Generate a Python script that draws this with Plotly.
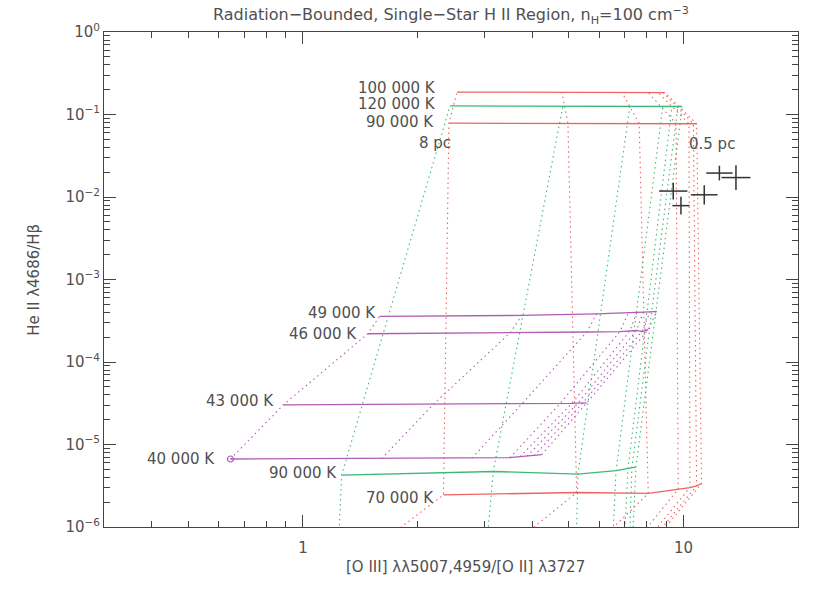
import math
import plotly.graph_objects as go

# ---------------- data ----------------
# x: [O III] 5007,4959 / [O II] 3727 ; y: He II 4686 / H-beta
# each temperature track runs over radii from 8 pc (left) to 0.5 pc (right)

# red model grid (lowest temperature lies below the plotted range)
red_temps = ["60 000 K", "70 000 K", "90 000 K", "100 000 K"]
red_x_60 = [1.384, 3.196, 5.36, 7.01, 7.50, 7.79, 8.02]
red_y_60 = [3.87e-7, 4.13e-7, 4.02e-7, 4.54e-7, 4.75e-7, 4.99e-7, 5.32e-7]
red_x_70 = [2.34, 5.24, 8.08, 9.69, 10.40, 10.83, 11.16]
red_y_70 = [2.45e-6, 2.62e-6, 2.55e-6, 2.88e-6, 3.01e-6, 3.16e-6, 3.37e-6]
red_x_90 = [2.419, 4.97, 7.65, 9.56, 10.34, 10.62, 10.83]
red_y_90 = [0.0785, 0.0782, 0.0780, 0.0778, 0.0776, 0.0774, 0.0772]
red_x_100 = [2.54, 4.79, 6.89, 8.07, 8.57, 8.83, 8.94]
red_y_100 = [0.187, 0.187, 0.186, 0.186, 0.185, 0.185, 0.184]

# green model grid (lowest temperature lies below the plotted range)
green_temps = ["80 000 K", "90 000 K", "120 000 K"]
green_x_80 = [1.233, 3.014, 5.21, 6.48, 6.95, 7.19, 7.31]
green_y_80 = [3.43e-7, 3.80e-7, 3.53e-7, 3.87e-7, 4.13e-7, 4.21e-7, 4.30e-7]
green_x_90 = [1.264, 3.163, 5.28, 6.65, 7.15, 7.32, 7.50]
green_y_90 = [4.26e-6, 4.71e-6, 4.38e-6, 4.81e-6, 5.13e-6, 5.23e-6, 5.33e-6]
green_x_120 = [2.434, 4.82, 7.23, 8.83, 9.33, 9.67, 9.93]
green_y_120 = [0.127, 0.127, 0.126, 0.126, 0.126, 0.125, 0.125]

# purple model grid
purple_temps = ["40 000 K", "43 000 K", "46 000 K", "49 000 K"]
purple_x_40 = [0.645, 1.61, 2.78, 3.50, 3.72, 3.88, 4.05, 4.24]
purple_y_40 = [6.67e-6, 6.73e-6, 6.83e-6, 6.92e-6, 7.11e-6, 7.21e-6, 7.31e-6, 7.52e-6]
purple_x_43 = [0.888, 2.20, 3.76, 4.74, 5.09, 5.28, 5.44, 5.57]
purple_y_43 = [3.02e-5, 3.06e-5, 3.10e-5, 3.13e-5, 3.15e-5, 3.17e-5, 3.19e-5, 3.19e-5]
purple_x_46 = [1.48, 3.50, 5.57, 6.81, 7.23, 7.53, 7.77, 8.08]
purple_y_46 = [2.20e-4, 2.25e-4, 2.31e-4, 2.34e-4, 2.38e-4, 2.41e-4, 2.34e-4, 2.46e-4]
purple_x_49 = [1.59, 3.76, 5.91, 7.16, 7.53, 7.84, 8.17, 8.51]
purple_y_49 = [3.57e-4, 3.67e-4, 3.83e-4, 3.91e-4, 3.96e-4, 4.02e-4, 4.06e-4, 4.11e-4]

radius_labels = ["8 pc", "0.5 pc"]

# observed nebulae with error bars
obs_x = [9.40, 9.85, 11.34, 12.43, 13.74]
obs_x_lo = [8.63, 9.35, 10.46, 11.48, 12.59]
obs_x_hi = [10.24, 10.38, 12.29, 13.46, 15.0]
obs_y = [0.0118, 0.00786, 0.01063, 0.0195, 0.0172]
obs_y_lo = [0.00934, 0.00612, 0.00812, 0.01588, 0.01218]
obs_y_hi = [0.01491, 0.0101, 0.01391, 0.02395, 0.0243]

y_tick_vals = [1e-6, 1e-5, 1e-4, 1e-3, 1e-2, 1e-1, 1]
y_tick_text = ["10<sup>−6</sup>", "10<sup>−5</sup>", "10<sup>−4</sup>", "10<sup>−3</sup>",
               "10<sup>−2</sup>", "10<sup>−1</sup>", "10<sup>0</sup>"]
x_tick_vals = [1, 10]
x_tick_text = ["1", "10"]

# ---------------- styling ----------------
RED = "#ef6262"
GREEN = "#3db877"
PURPLE = "#b25cb6"
TXT = "#505050"
AX = "#444444"
FONT = "DejaVu Sans"
DOT = "1.5px,3.5px"

families = [
    (RED, red_temps,
     [(red_x_60, red_y_60), (red_x_70, red_y_70), (red_x_90, red_y_90), (red_x_100, red_y_100)],
     [None, (-7, -3), (-13, 1), (-19, 4)]),
    (GREEN, green_temps,
     [(green_x_80, green_y_80), (green_x_90, green_y_90), (green_x_120, green_y_120)],
     [None, (-3, 2), (-12, 2)]),
    (PURPLE, purple_temps,
     [(purple_x_40, purple_y_40), (purple_x_43, purple_y_43), (purple_x_46, purple_y_46),
      (purple_x_49, purple_y_49)],
     [(-13, 0), (-7, 4), (-9, 0), (-2, 3)]),
]

fig = go.Figure()
annotations = []

# dotted constant-radius lines
for color, temps, tracks, offs in families:
    n = len(tracks[0][0])
    for i in range(n):
        fig.add_trace(go.Scatter(
            x=[t[0][i] for t in tracks], y=[t[1][i] for t in tracks],
            mode="lines", line=dict(color=color, width=1.1, dash=DOT),
            hoverinfo="skip", showlegend=False))

# solid constant-temperature lines + labels
for color, temps, tracks, offs in families:
    for (tx, ty), name, off in zip(tracks, temps, offs):
        fig.add_trace(go.Scatter(x=tx, y=ty, mode="lines", name=name,
                                 line=dict(color=color, width=1.3), showlegend=False))
        if off is not None:
            annotations.append(dict(
                x=math.log10(tx[0]), y=math.log10(ty[0]), xref="x", yref="y",
                text=name, showarrow=False, xanchor="right", yanchor="middle",
                xshift=off[0], yshift=off[1], font=dict(family=FONT, size=15, color=TXT)))

# small open circle at the start of the coolest purple track
fig.add_trace(go.Scatter(x=[purple_x_40[0]], y=[purple_y_40[0]], mode="markers",
                         marker=dict(symbol="circle-open", size=6, color=PURPLE, line=dict(width=1.2)),
                         showlegend=False))

# radius labels near the 90 000 K red track
annotations.append(dict(x=math.log10(red_x_90[0]), y=math.log10(red_y_90[0]), xref="x", yref="y",
                        text=radius_labels[0], showarrow=False, xanchor="right", yanchor="middle",
                        xshift=4, yshift=-20, font=dict(family=FONT, size=15, color=TXT)))
annotations.append(dict(x=math.log10(red_x_90[-1]), y=math.log10(red_y_90[-1]), xref="x", yref="y",
                        text=radius_labels[1], showarrow=False, xanchor="left", yanchor="middle",
                        xshift=-10, yshift=-20, font=dict(family=FONT, size=15, color=TXT)))

# observations
fig.add_trace(go.Scatter(
    x=obs_x, y=obs_y, mode="markers", marker=dict(size=1, color="rgba(0,0,0,0)"),
    error_x=dict(type="data", symmetric=False,
                 array=[h - v for h, v in zip(obs_x_hi, obs_x)],
                 arrayminus=[v - l for l, v in zip(obs_x_lo, obs_x)],
                 color="#333333", thickness=1.5, width=0),
    error_y=dict(type="data", symmetric=False,
                 array=[h - v for h, v in zip(obs_y_hi, obs_y)],
                 arrayminus=[v - l for l, v in zip(obs_y_lo, obs_y)],
                 color="#333333", thickness=1.5, width=0),
    showlegend=False))

# axis titles
annotations.append(dict(x=0.5216, y=-0.081, xref="paper", yref="paper",
                        text="[O III] λλ5007,4959/[O II] λ3727", showarrow=False,
                        xanchor="center", yanchor="middle",
                        font=dict(family=FONT, size=15, color=TXT)))
annotations.append(dict(x=-0.102, y=0.5, xref="paper", yref="paper",
                        text="He II λ4686/Hβ", showarrow=False, textangle=-90,
                        xanchor="center", yanchor="middle",
                        font=dict(family=FONT, size=15, color=TXT)))

x_minor = [k * 10 ** e for e in (-1, 0, 1) for k in range(2, 10) if 0.3 <= k * 10 ** e <= 20]
y_minor = [k * 10.0 ** e for e in range(-6, 0) for k in range(2, 10)]

axis_common = dict(type="log", showgrid=False, zeroline=False, showline=True,
                   linecolor=AX, linewidth=1, mirror="allticks", ticks="inside",
                   ticklen=12, tickwidth=1, tickcolor=AX,
                   tickfont=dict(family=FONT, size=15, color=TXT))

fig.update_layout(
    width=830, height=593,
    margin=dict(l=104, r=32, t=32, b=66),
    paper_bgcolor="white", plot_bgcolor="white",
    title=dict(text="Radiation−Bounded, Single−Star H II Region, n<sub>H</sub>=100 cm<sup>−3</sup>",
               x=0.5, xref="paper", xanchor="center", y=0.975, yref="container", yanchor="middle",
               font=dict(family=FONT, size=16, color=TXT)),
    xaxis=dict(range=[math.log10(0.3), math.log10(20)], tickmode="array",
               tickvals=x_tick_vals, ticktext=x_tick_text, ticklabelstandoff=7,
               minor=dict(ticks="inside", ticklen=6, tickcolor=AX, tickmode="array",
                          tickvals=x_minor, showgrid=False),
               **axis_common),
    yaxis=dict(range=[-6, 0], tickmode="array", tickvals=y_tick_vals, ticktext=y_tick_text,
               minor=dict(ticks="inside", ticklen=6, tickcolor=AX, tickmode="array",
                          tickvals=y_minor, showgrid=False),
               **axis_common),
    annotations=annotations,
)

fig.write_html("out.html", config={"displayModeBar": False},
               post_script="document.body.style.margin='0px';")
